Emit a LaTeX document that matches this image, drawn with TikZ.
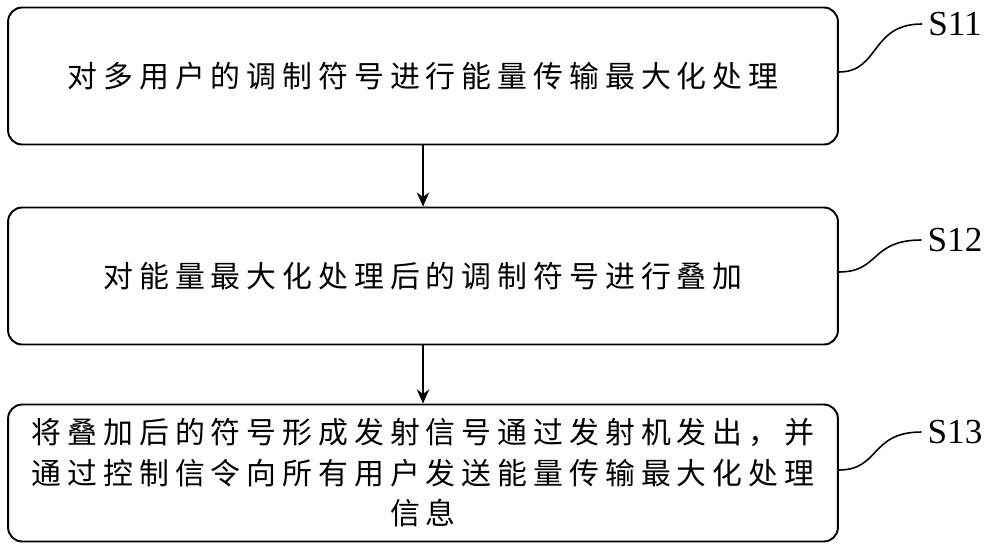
\documentclass[tikz,border=0pt]{standalone}
\usepackage{fontspec}
\newfontfamily\cjk[LetterSpace=20]{Noto Sans CJK SC}
\setmainfont{Liberation Serif}
\usetikzlibrary{arrows.meta}
\begin{document}
\begin{tikzpicture}[x=0.02cm, y=-0.02cm,
	stepbox/.style = {draw, line width=1.1pt, rounded corners=8pt, minimum width=16.6cm, minimum height=2.74cm, align=center, font=\cjk\fontsize{17}{23}\selectfont},
	steplabel/.style = {font=\fontsize{20}{22}\selectfont},
	link/.style = {line width=1.1pt, -{Stealth[length=8pt, width=7pt]}},
	lead/.style = {line width=0.9pt}]
	\useasboundingbox (0,0) rectangle (1000,554);
	\node[stepbox] (1) at (423,76) {对多用户的调制符号进行能量传输最大化处理};
	\node[stepbox] (2) at (423,276) {对能量最大化处理后的调制符号进行叠加};
	\node[stepbox] (3) at (423,473) {将叠加后的符号形成发射信号通过发射机发出，并\\通过控制信令向所有用户发送能量传输最大化处理\\信息};
	\node[steplabel] (s1) at (955,24) {S11};
	\node[steplabel] (s2) at (955,240) {S12};
	\node[steplabel] (s3) at (955,432) {S13};
	\draw[link] (1) -- (2);
	\draw[link] (2) -- (3);
	\draw[lead] (1.east |- 0,72) .. controls (880,72) and (870,24) .. (s1.west);
	\draw[lead] (2.east |- 0,272) .. controls (880,272) and (870,240) .. (s2.west);
	\draw[lead] (3.east |- 0,470) .. controls (880,470) and (870,432) .. (s3.west);
\end{tikzpicture}
\end{document}
